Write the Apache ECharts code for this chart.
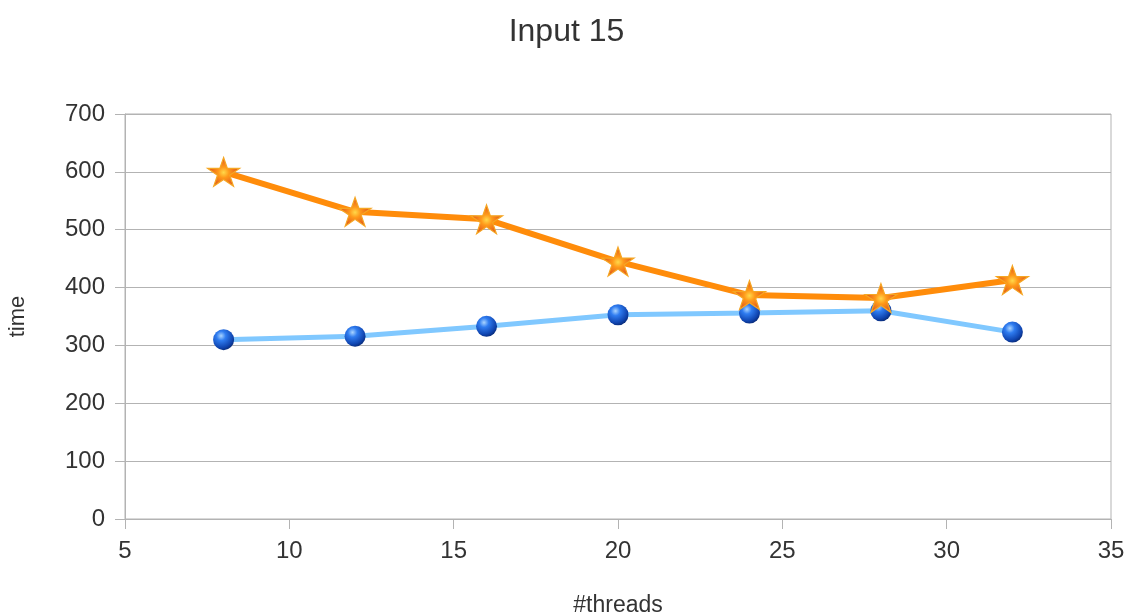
<!DOCTYPE html>
<html>
<head>
<meta charset="utf-8">
<script src="https://cdn.jsdelivr.net/npm/echarts@6/dist/echarts.min.js"></script>
<style>
html,body{margin:0;padding:0;background:#fff;}
#chart{width:1133px;height:615px;}
</style>
</head>
<body>
<div id="chart"></div>
<script>
const threads = [8, 12, 16, 20, 24, 28, 32];
const seriesStar = [600, 531, 518, 445, 387, 382, 413];
const seriesBall = [310, 316, 333, 353, 356, 360, 323];
const xTicks = [5, 10, 15, 20, 25, 30, 35];
const yTicks = [0, 100, 200, 300, 400, 500, 600, 700];

const starPath = 'path://M50,0 L61.8,35.1 L100,35.1 L69.1,57 L80.9,92.7 L50,70.8 L19.1,92.7 L30.9,57 L0,35.1 L38.2,35.1 Z';

const chart = echarts.init(document.getElementById('chart'));
const font = '"Liberation Sans", Arial, sans-serif';
chart.setOption({
  animation: false,
  backgroundColor: '#ffffff',
  title: {
    text: 'Input 15',
    left: 'center',
    top: 11,
    textStyle: {fontFamily: font, fontSize: 32, fontWeight: 'normal', color: '#333333'}
  },
  grid: {
    left: 125, right: 22, top: 114, bottom: 96,
    outerBoundsMode: 'none',
    containLabel: false,
    show: true, borderColor: '#b3b3b3', borderWidth: 1, backgroundColor: 'transparent'
  },
  xAxis: {
    type: 'value',
    min: xTicks[0], max: xTicks[xTicks.length - 1], interval: 5,
    name: '#threads',
    nameLocation: 'middle',
    nameGap: 75,
    nameTextStyle: {fontFamily: font, fontSize: 23, color: '#333333'},
    axisLine: {show: true, lineStyle: {color: '#b3b3b3', width: 1}},
    axisTick: {show: true, length: 10, lineStyle: {color: '#b3b3b3'}},
    axisLabel: {fontFamily: font, fontSize: 24, color: '#333333', margin: 20},
    splitLine: {show: false}
  },
  yAxis: {
    type: 'value',
    min: yTicks[0], max: yTicks[yTicks.length - 1], interval: 100,
    name: 'time',
    nameLocation: 'middle',
    nameGap: 96,
    nameTextStyle: {fontFamily: font, fontSize: 22, color: '#333333'},
    axisLine: {show: true, lineStyle: {color: '#b3b3b3', width: 1}},
    axisTick: {show: true, length: 10, lineStyle: {color: '#b3b3b3'}},
    axisLabel: {fontFamily: font, fontSize: 24, color: '#333333', margin: 20},
    splitLine: {show: true, lineStyle: {color: '#b3b3b3', width: 1}}
  },
  series: [
    {
      type: 'line',
      data: threads.map((t, i) => [t, seriesBall[i]]),
      lineStyle: {color: '#80c8ff', width: 5},
      symbol: 'circle',
      symbolSize: 21,
      itemStyle: {
        color: {
          type: 'radial', x: 0.38, y: 0.32, r: 0.75,
          colorStops: [
            {offset: 0, color: '#a9d4ff'},
            {offset: 0.3, color: '#2f7cf0'},
            {offset: 0.75, color: '#1045b0'},
            {offset: 1, color: '#06246a'}
          ]
        },
        borderWidth: 0
      },
      z: 2
    },
    {
      type: 'line',
      data: threads.map((t, i) => [t, seriesStar[i]]),
      lineStyle: {color: '#ff8c0a', width: 6},
      symbol: starPath,
      symbolSize: [32, 31],
      symbolKeepAspect: true,
      itemStyle: {
        color: {
          type: 'radial', x: 0.5, y: 0.52, r: 0.5,
          colorStops: [
            {offset: 0, color: '#ffd84a'},
            {offset: 0.35, color: '#ff9a1a'},
            {offset: 1, color: '#e0521a'}
          ]
        },
        borderColor: '#f5a623',
        borderWidth: 1.2
      },
      z: 3
    }
  ]
});
</script>
</body>
</html>
